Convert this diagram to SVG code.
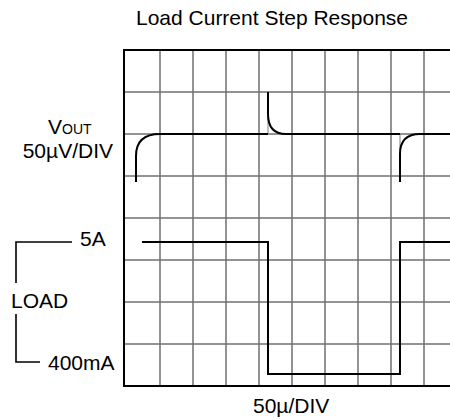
<svg xmlns="http://www.w3.org/2000/svg" width="450" height="420" viewBox="0 0 450 420">
<style>
  text { font-family: "Liberation Sans", Arial, sans-serif; fill: #000; }
  .lbl { font-size: 21px; }
  .grid { stroke: #707070; stroke-width: 1.5; fill: none; }
  .border { stroke: #000; stroke-width: 2; fill: none; }
  .trace { stroke: #000; stroke-width: 2; fill: none; }
  .thin { stroke: #808080; stroke-width: 1; fill: none; }
  .bracket { stroke: #000; stroke-width: 1.6; fill: none; }
</style>
<rect width="450" height="420" fill="#fff"/>
<g id="title">
  <text x="272" y="25" font-size="21" text-anchor="middle">Load Current Step Response</text>
</g>
<g id="grid">
  <path class="grid" d="M160,50V386 M193,50V386 M226,50V386 M259,50V386 M292,50V386 M325,50V386 M358,50V386 M391,50V386 M424,50V386"/>
  <path class="grid" d="M124,92H450 M124,134H450 M124,176H450 M124,218H450 M124,260H450 M124,302H450 M124,344H450"/>
  <path class="border" d="M450,50H124V386H450"/>
</g>
<g id="vout-trace">
  <path class="thin" d="M268,116V134 M400,134V154"/>
  <path class="trace" d="M136,182V156Q136,134 160,134H268"/>
  <path class="trace" d="M268,92V114Q268,134 286,134H400"/>
  <path class="trace" d="M400,182V154Q400,134 420,134H450"/>
</g>
<g id="load-trace">
  <path class="trace" stroke-width="1.8" d="M142,242H268V374H400V242H450"/>
</g>
<g id="vout-label">
  <text x="48" y="134"><tspan font-size="21">V</tspan><tspan font-size="14">OUT</tspan></text>
  <text class="lbl" x="113" y="158" text-anchor="end">50µV/DIV</text>
</g>
<g id="load-label">
  <path class="bracket" d="M72,242H16V283 M16,314V362H40"/>
  <text class="lbl" x="80" y="246">5A</text>
  <text class="lbl" x="11" y="308">LOAD</text>
  <text class="lbl" x="48" y="370">400mA</text>
</g>
<g id="time-label">
  <text class="lbl" x="253" y="413">50µ/DIV</text>
</g>
</svg>
